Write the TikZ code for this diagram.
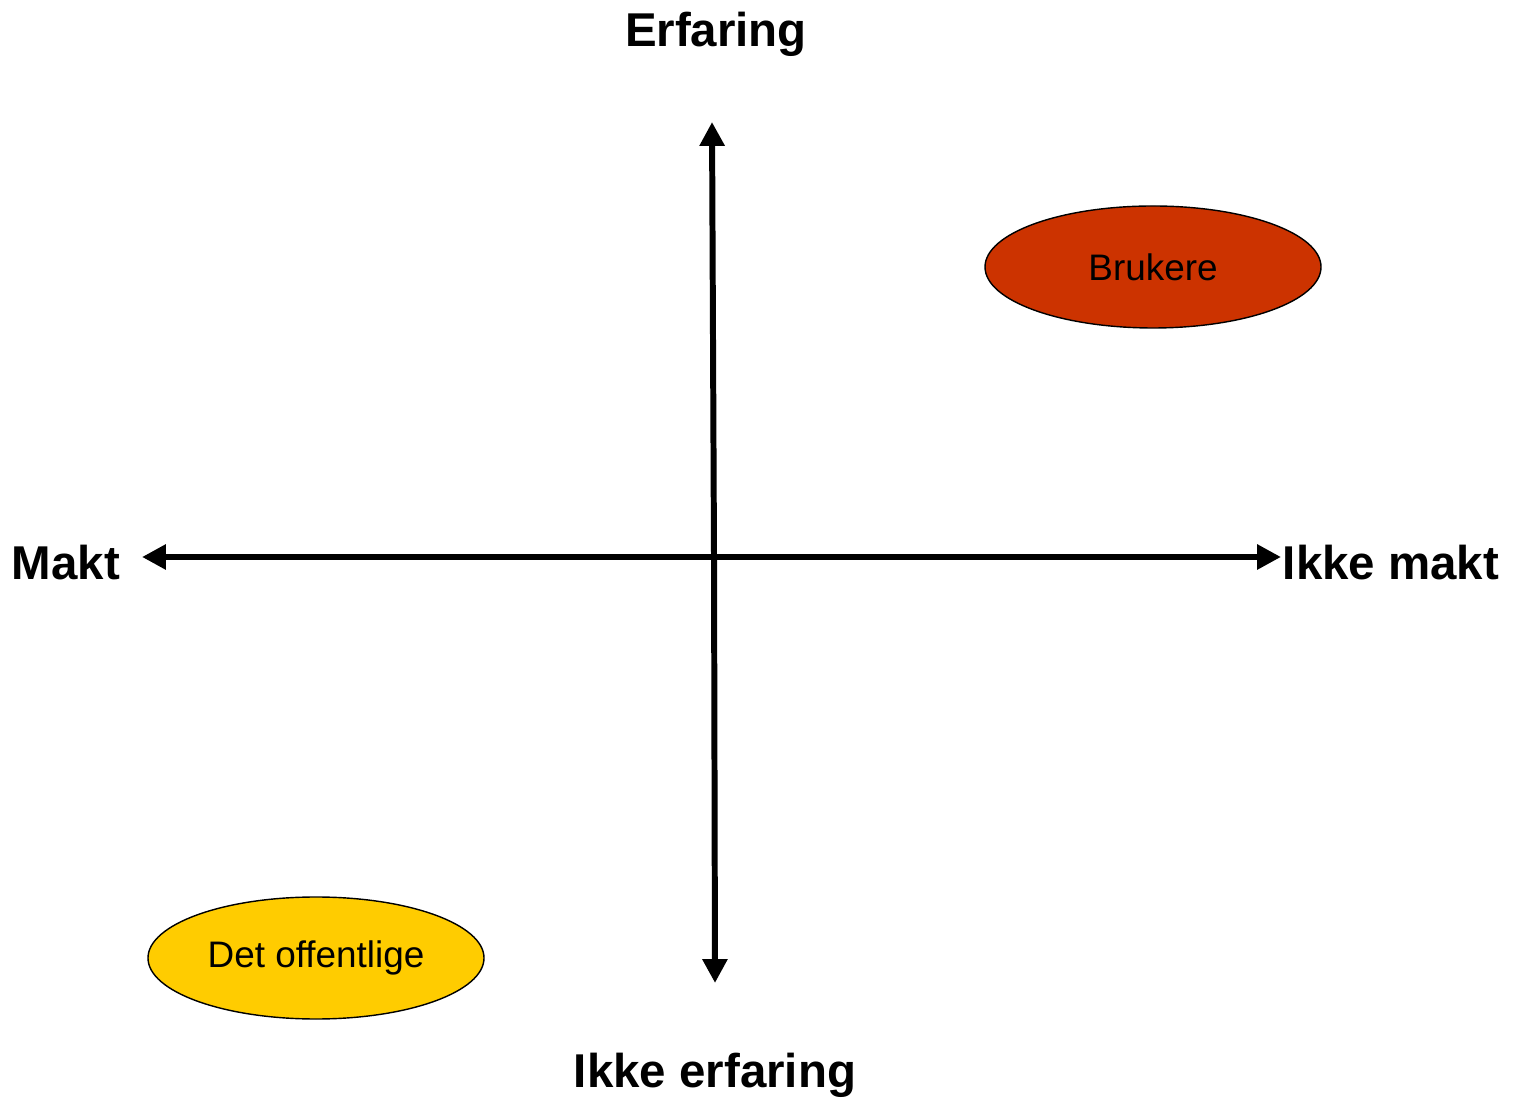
\documentclass[tikz,border=0pt]{standalone}
\usepackage{fontspec}
\setmainfont{Liberation Sans}
\usetikzlibrary{shapes,arrows.meta,positioning}
\definecolor{brukerred}{RGB}{204,51,0}
\definecolor{offentliggul}{RGB}{255,204,0}

\tikzset{
    akse/.style={line width=1.7pt, -{Triangle[length=6.8pt,width=6.8pt]}},
    aksetekst/.style={font=\fontsize{13.5}{16}\selectfont\bfseries, inner sep=0pt},
    gruppe/.style={ellipse, draw=black, thin, minimum width=3.36cm, minimum height=1.22cm, font=\fontsize{10.5}{12}\selectfont, inner sep=0pt}
}

\begin{document}
\begin{tikzpicture}
    \useasboundingbox (0,0) rectangle (15.16,10.97);
    % Axis ends
    \coordinate (senter) at (7.14,5.40);
    \coordinate (topp) at (7.12,9.75);
    \coordinate (bunn) at (7.15,1.14);
    \coordinate (venstre) at (1.42,5.40);
    \coordinate (hoyre) at (12.81,5.40);
    % Axes
    \draw[akse] (senter) -- (topp);
    \draw[akse] (senter) -- (bunn);
    \draw[akse] (senter) -- (venstre);
    \draw[akse] (senter) -- (hoyre);
    % Axis labels
    \node[aksetekst] (erfaring) at (7.16,10.63) {Erfaring};
    \node[aksetekst] (ikkeerfaring) at (7.15,0.22) {Ikke erfaring};
    \node[aksetekst] (makt) at (0.66,5.34) {Makt};
    \node[aksetekst] (ikkemakt) at (13.91,5.34) {Ikke makt};
    % Groups
    \node[gruppe, fill=brukerred] (brukere) at (11.53,8.30) {\raisebox{-0.3ex}{Brukere}};
    \node[gruppe, fill=offentliggul] (offentlige) at (3.16,1.39) {\raisebox{-0.3ex}{Det offentlige}};
\end{tikzpicture}
\end{document}
